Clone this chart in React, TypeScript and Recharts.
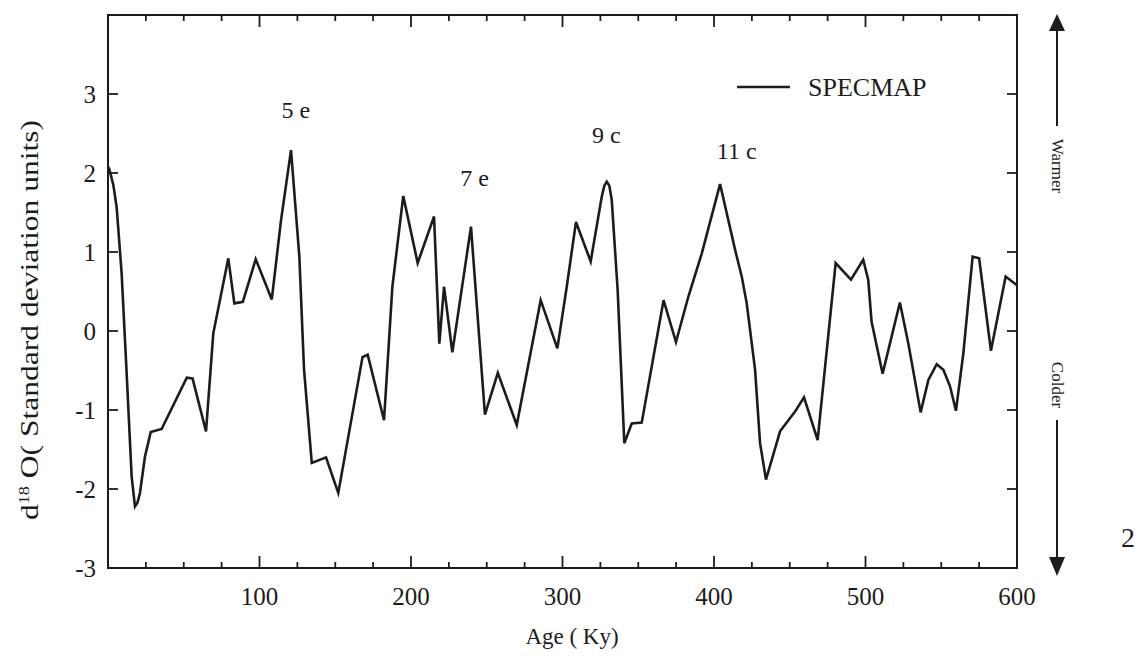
import React from "react";
import { LineChart, Line, XAxis, YAxis, ReferenceArea, ReferenceDot } from "recharts";

// SPECMAP stacked d18O record
const ages = [
  0, 1, 3.5, 5.7, 9, 12.3, 15.6, 17.8, 19.5, 21.1, 24.4, 28.2, 35.4, 52, 55.8, 64.7, 69.5, 79.4, 83.4, 89,
  97.5, 108.1, 114.2, 120.8, 126.3, 129.4, 134.5, 143.9, 152, 168, 171.4, 182.2, 187.7, 194.9, 204.4, 215.2,
  218.7, 221.8, 227.3, 239.6, 248.8, 257.3, 269.8, 285.6, 296.6, 302.8, 308.9, 318.6, 325.9, 327.6, 329.2,
  330.9, 332.5, 336.4, 340.8, 345.7, 352.3, 366.7, 374.9, 383, 391.9, 404, 413.9, 418.3, 421.6, 427.1, 430.4,
  434.3, 443.6, 453.5, 459.4, 468.4, 480.3, 490.4, 498.5, 501.8, 504, 511.3, 522.7, 528.3, 536.4, 541.5, 547,
  551.4, 555.8, 559.7, 564.6, 570.7, 575, 582.8, 592.5, 600,
];
const specmap = [
  2.08, 2.04, 1.85, 1.57, 0.73, -0.53, -1.84, -2.22, -2.17, -2.05, -1.59, -1.28, -1.24, -0.59, -0.6, -1.27,
  -0.03, 0.92, 0.35, 0.37, 0.91, 0.4, 1.4, 2.29, 0.94, -0.49, -1.67, -1.6, -2.05, -0.33, -0.3, -1.13, 0.56,
  1.71, 0.86, 1.45, -0.16, 0.56, -0.27, 1.32, -1.06, -0.53, -1.19, 0.39, -0.22, 0.56, 1.38, 0.88, 1.7, 1.84,
  1.89, 1.84, 1.66, 0.52, -1.42, -1.17, -1.16, 0.39, -0.14, 0.43, 0.98, 1.86, 1.03, 0.69, 0.35, -0.49, -1.42,
  -1.88, -1.27, -1.02, -0.84, -1.38, 0.86, 0.65, 0.9, 0.65, 0.12, -0.54, 0.36, -0.16, -1.03, -0.62, -0.42,
  -0.49, -0.7, -1.01, -0.28, 0.94, 0.92, -0.25, 0.69, 0.58,
];

const xTicks = [
  0, 25, 50, 75, 100, 125, 150, 175, 200, 225, 250, 275, 300, 325, 350, 375, 400, 425, 450, 475, 500, 525,
  550, 575, 600,
];
const xLabels = [100, 200, 300, 400, 500, 600];
const yTicks = [-3, -2, -1, 0, 1, 2, 3, 4];
const yLabels = [-3, -2, -1, 0, 1, 2, 3];

const peakNames = ["5 e", "7 e", "9 c", "11 c"];
const peakAges = [124, 242, 329, 415];
const peakValues = [2.8, 1.94, 2.48, 2.28];

const data = ages.map((age, i) => ({ age, specmap: specmap[i] }));

const W = 1139;
const H = 658;
const PLOT = { left: 108, top: 15, right: 1017, bottom: 568 };
const INK = "#1c1c1c";
const SERIF = '"Liberation Serif", "DejaVu Serif", serif';
const serif = { fontFamily: SERIF };

function XTick(props: any) {
  const { x, y, payload } = props;
  const v = payload.value;
  const major = v % 100 === 0;
  const len = major ? 12 : 6;
  return (
    <g>
      <line x1={x} y1={y} x2={x} y2={y - len} stroke={INK} strokeWidth={1.8} />
      <line x1={x} y1={PLOT.top} x2={x} y2={PLOT.top + len} stroke={INK} strokeWidth={1.8} />
      {xLabels.includes(v) && (
        <text x={x} y={y + 37} textAnchor="middle" style={serif} fontSize={25} fill={INK}>
          {v}
        </text>
      )}
    </g>
  );
}

function YTick(props: any) {
  const { x, y, payload } = props;
  const v = payload.value;
  return (
    <g>
      <line x1={x} y1={y} x2={x + 10} y2={y} stroke={INK} strokeWidth={1.8} />
      <line x1={PLOT.right - 10} y1={y} x2={PLOT.right} y2={y} stroke={INK} strokeWidth={1.8} />
      {yLabels.includes(v) && (
        <text x={x - 12} y={y + 9} textAnchor="end" style={serif} fontSize={25} fill={INK}>
          {v}
        </text>
      )}
    </g>
  );
}

function YTitle() {
  const cx = 38;
  const cy = 320;
  return (
    <text
      x={cx}
      y={cy}
      transform={`rotate(-90 ${cx} ${cy})`}
      textAnchor="middle"
      style={serif}
      fontSize={26}
      fill={INK}
      textLength={400}
      lengthAdjust="spacingAndGlyphs"
    >
      d<tspan fontSize={15} dy={-9}>18</tspan>
      <tspan dy={9}> O( Standard deviation units)</tspan>
    </text>
  );
}

function XTitle() {
  return (
    <text x={572} y={644} textAnchor="middle" style={serif} fontSize={23} fill={INK}>
      Age ( Ky)
    </text>
  );
}

function PeakLabel(props: any) {
  const { viewBox, value } = props;
  const cx = viewBox.x + viewBox.width / 2;
  const cy = viewBox.y + viewBox.height / 2;
  return (
    <text x={cx} y={cy + 8} textAnchor="middle" style={serif} fontSize={24} fill={INK}>
      {value}
    </text>
  );
}

function Decorations() {
  const ax = 1057;
  return (
    <svg width={W} height={H} style={{ position: "absolute", left: 0, top: 0, pointerEvents: "none" }}>
      {/* legend */}
      <line x1={737} y1={87} x2={790} y2={87} stroke={INK} strokeWidth={2.5} />
      <text x={808} y={96} style={serif} fontSize={26} fill={INK}>SPECMAP</text>
      {/* warmer / colder arrow */}
      <polygon points={`${ax},14 ${ax - 8},31 ${ax + 8},31`} fill={INK} />
      <line x1={ax} y1={30} x2={ax} y2={126} stroke={INK} strokeWidth={2} />
      <text x={ax} y={166} transform={`rotate(90 ${ax} 166)`} textAnchor="middle" dominantBaseline="central" style={serif} fontSize={17} fill={INK}>
        Warmer
      </text>
      <text x={ax} y={385} transform={`rotate(90 ${ax} 385)`} textAnchor="middle" dominantBaseline="central" style={serif} fontSize={17} fill={INK}>
        Colder
      </text>
      <line x1={ax} y1={420} x2={ax} y2={558} stroke={INK} strokeWidth={2} />
      <polygon points={`${ax},576 ${ax - 8},557 ${ax + 8},557`} fill={INK} />
      <text x={1128} y={547} textAnchor="middle" style={serif} fontSize={28} fill={INK}>2</text>
    </svg>
  );
}

export default function App() {
  return (
    <div style={{ position: "absolute", left: 0, top: 0, width: W, height: H, background: "#fff" }}>
      <LineChart width={W} height={H} data={data} margin={{ top: PLOT.top, right: W - PLOT.right, bottom: 30, left: 48 }}>
        <XAxis
          dataKey="age"
          type="number"
          domain={[0, 600]}
          ticks={xTicks}
          interval={0}
          height={60}
          axisLine={false}
          tickLine={false}
          tickSize={0}
          tickMargin={0}
          tick={<XTick />}
          label={<XTitle />}
        />
        <YAxis
          type="number"
          domain={[-3, 4]}
          ticks={yTicks}
          interval={0}
          width={60}
          axisLine={false}
          tickLine={false}
          tickSize={0}
          tickMargin={0}
          tick={<YTick />}
          label={<YTitle />}
        />
        <ReferenceArea x1={0} x2={600} y1={-3} y2={4} fill="none" stroke={INK} strokeWidth={2} />
        {peakNames.map((name, i) => (
          <ReferenceDot
            key={name}
            x={peakAges[i]}
            y={peakValues[i]}
            r={1}
            fill="none"
            stroke="none"
            label={<PeakLabel value={name} />}
          />
        ))}
        <Line
          type="linear"
          dataKey="specmap"
          stroke={INK}
          strokeWidth={2.6}
          dot={false}
          isAnimationActive={false}
        />
      </LineChart>
      <Decorations />
    </div>
  );
}
